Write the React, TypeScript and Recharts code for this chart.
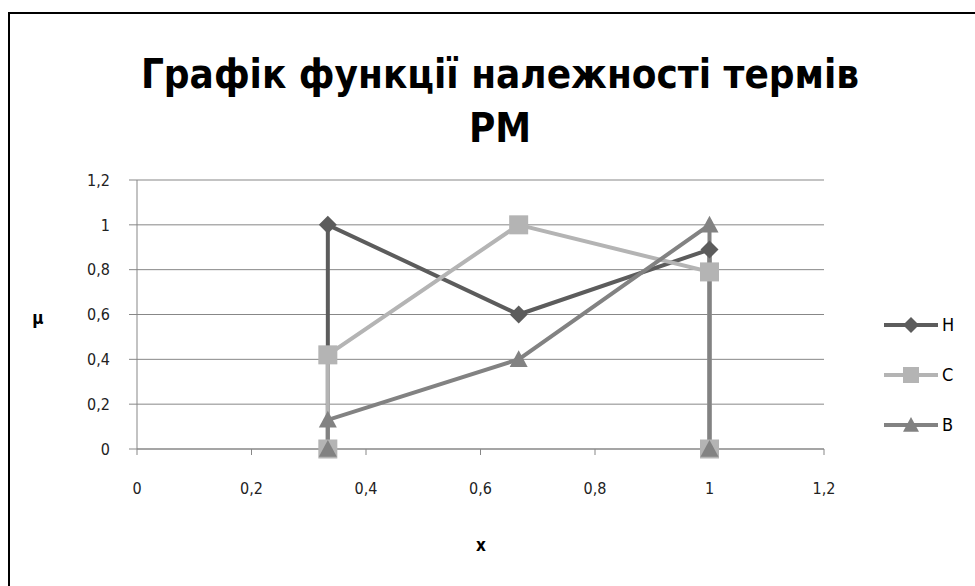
import React from 'react';
import { LineChart, Line, XAxis, YAxis, CartesianGrid } from 'recharts';

const xValues = [1 / 3, 1 / 3, 2 / 3, 1, 1];
const seriesNames = ['Н', 'С', 'В'];
const valuesH = [0, 1, 0.6, 0.89, 0];
const valuesC = [0, 0.42, 1, 0.79, 0];
const valuesB = [0, 0.13, 0.4, 1, 0];
const xTicks = [0, 0.2, 0.4, 0.6, 0.8, 1, 1.2];
const yTicks = [0, 0.2, 0.4, 0.6, 0.8, 1, 1.2];
const titleLines = ['Графік функції належності термів', 'РМ'];
const xLabel = 'x';
const yLabel = 'μ';

const colors = ['#5c5c5c', '#b4b4b4', '#828282'];
const shapes = ['diamond', 'square', 'triangle'];
const FONT = '"Liberation Sans Narrow", "DejaVu Sans Condensed", "Liberation Sans", sans-serif';
const GRID = '#878787';

const toPoints = (ys: number[]) => xValues.map((x, i) => ({ x, y: ys[i] }));
const seriesData = [toPoints(valuesH), toPoints(valuesC), toPoints(valuesB)];

const fmt = (v: number) => String(v).replace('.', ',');

function Marker({ shape, cx, cy, color, s }: any) {
  if (cx == null || cy == null) return null;
  if (shape === 'diamond') {
    return <polygon points={`${cx},${cy - s} ${cx + s},${cy} ${cx},${cy + s} ${cx - s},${cy}`} fill={color} />;
  }
  if (shape === 'square') {
    return <rect x={cx - s} y={cy - s} width={2 * s} height={2 * s} fill={color} />;
  }
  return <polygon points={`${cx},${cy - s} ${cx + s},${cy + s * 0.85} ${cx - s},${cy + s * 0.85}`} fill={color} />;
}

const markerSizes = [9, 9.5, 9];

function LegendBox() {
  return (
    <svg width={95} height={130} style={{ position: 'absolute', left: 880, top: 310, display: 'block' }}>
      {seriesNames.map((n, i) => {
        const y = 15 + i * 50;
        return (
          <g key={n}>
            <line x1={4} x2={58} y1={y} y2={y} stroke={colors[i]} strokeWidth={4} />
            <Marker shape={shapes[i]} cx={31} cy={y} color={colors[i]} s={8} />
            <text x={62} y={y} dy="0.36em" fontFamily={FONT} fontSize={18} fill="#000">{n}</text>
          </g>
        );
      })}
    </svg>
  );
}

export default function App() {
  return (
    <div style={{ position: 'absolute', left: 0, top: 0, width: 975, height: 586, overflow: 'hidden', background: '#fff' }}>
      <div style={{ position: 'absolute', left: 8, top: 12, width: 1000, height: 700, border: '2px solid #000', boxSizing: 'border-box' }} />
      <div style={{ position: 'absolute', left: 0, top: 47, width: 1000, textAlign: 'center', fontFamily: FONT, fontWeight: 'bold', fontSize: 40, lineHeight: '54px', color: '#000' }}>
        {titleLines.map((t) => <div key={t}>{t}</div>)}
      </div>
      <div style={{ position: 'absolute', left: 28, top: 308, width: 20, textAlign: 'center', fontFamily: FONT, fontWeight: 'bold', fontSize: 17, color: '#000' }}>{yLabel}</div>
      <div style={{ position: 'absolute', left: 471, top: 535, width: 20, textAlign: 'center', fontFamily: FONT, fontWeight: 'bold', fontSize: 17, color: '#000' }}>{xLabel}</div>
      <div style={{ position: 'absolute', left: 0, top: 0 }}>
        <LineChart width={975} height={586} margin={{ top: 180, right: 151, bottom: 97, left: 77 }}>
          <CartesianGrid horizontal vertical={false} stroke={GRID} strokeWidth={1} />
          <XAxis
            type="number"
            dataKey="x"
            domain={[0, 1.2]}
            ticks={xTicks}
            tickFormatter={fmt}
            height={40}
            stroke={GRID}
            tickSize={6}
            tickMargin={28}
            tick={{ fill: '#222', fontSize: 16, fontFamily: FONT }}
          />
          <YAxis
            type="number"
            dataKey="y"
            domain={[0, 1.2]}
            ticks={yTicks}
            tickFormatter={fmt}
            width={60}
            stroke={GRID}
            tickSize={8}
            tickMargin={19}
            tick={{ fill: '#222', fontSize: 16, fontFamily: FONT }}
          />
          {seriesData.map((d, i) => (
            <Line
              key={seriesNames[i]}
              name={seriesNames[i]}
              data={d}
              dataKey="y"
              type="linear"
              stroke={colors[i]}
              strokeWidth={4}
              isAnimationActive={false}
              dot={(p: any) => <Marker key={`m-${i}-${p.index}`} shape={shapes[i]} cx={p.cx} cy={p.cy} color={colors[i]} s={markerSizes[i]} />}
              activeDot={false}
            />
          ))}
        </LineChart>
      </div>
      <LegendBox />
    </div>
  );
}
